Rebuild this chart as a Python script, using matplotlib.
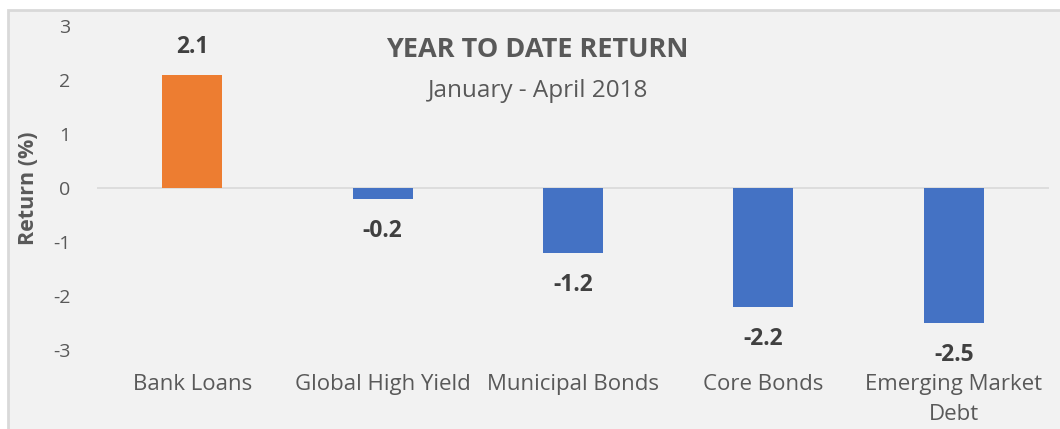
import matplotlib.pyplot as plt
from matplotlib.patches import Rectangle

categories = ["Bank Loans", "Global High Yield", "Municipal Bonds", "Core Bonds", "Emerging Market\nDebt"]
returns = [2.1, -0.2, -1.2, -2.2, -2.5]
bar_colors = ["#ED7D31", "#4472C4", "#4472C4", "#4472C4", "#4472C4"]
yticks = [-3, -2, -1, 0, 1, 2, 3]

plt.rcParams['font.family'] = ['Open Sans', 'DejaVu Sans']
text_gray = "#595959"

fig = plt.figure(figsize=(10.6, 4.29), dpi=100, facecolor="white")
# chart area background with a light border
fig.patches.append(Rectangle((8 / 1060, -0.1), 1.2, 1 - 10 / 429 + 0.1,
                             transform=fig.transFigure, facecolor="#F2F2F2",
                             edgecolor="#D9D9D9", linewidth=2, zorder=-10))

ax = fig.add_axes([97 / 1060, 1 - 350 / 429, 952 / 1060, 324 / 429])
ax.set_facecolor("none")

x = range(len(categories))
ax.bar(x, returns, width=0.316, color=bar_colors, zorder=3)
ax.axhline(0, color="#D9D9D9", linewidth=1.2, zorder=2)

for i, v in enumerate(returns):
    off = 20 if v > 0 else -23
    ax.annotate(f"{v:.1f}", (i, v), xytext=(0, off), textcoords="offset points",
                ha="center", va="center", fontsize=16.5, fontweight="bold", color="#404040")

ax.set_xlim(-0.5, len(categories) - 0.5)
ax.set_ylim(-3, 3)
ax.set_yticks(yticks)
ax.set_yticklabels([str(t) for t in yticks], fontsize=14, color=text_gray)
ax.set_xticks(list(x))
ax.set_xticklabels(categories, fontsize=16, color=text_gray, linespacing=1.6, va="top")
ax.tick_params(axis="both", length=0)
ax.tick_params(axis="x", pad=17)
ax.tick_params(axis="y", pad=19)
for s in ax.spines.values():
    s.set_visible(False)

ax.set_ylabel("Return (%)", fontsize=15.5, fontweight="bold", color=text_gray, labelpad=10)

ax.text(0.463, 0.925, "YEAR TO DATE RETURN", transform=ax.transAxes, ha="center",
        va="center", fontsize=19.5, fontweight="bold", color=text_gray)
ax.text(0.463, 0.80, "January - April 2018", transform=ax.transAxes, ha="center",
        va="center", fontsize=17.5, color=text_gray)

fig.savefig("out.png", dpi=100)
